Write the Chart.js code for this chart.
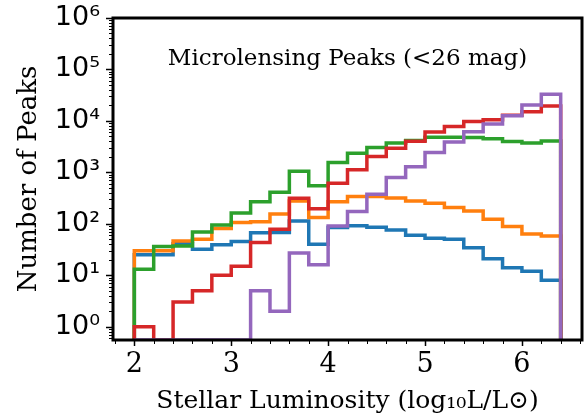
<!DOCTYPE html>
<html>
<head>
<meta charset="utf-8">
<script src="https://cdn.jsdelivr.net/npm/chart.js@4.4.0/dist/chart.umd.min.js"></script>
<style>
  html, body { margin: 0; padding: 0; background: #fff; }
</style>
</head>
<body>
<canvas id="peaks" width="587" height="419"></canvas>
<script>
// histogram bins, log10 L/Lsun, 0.2 dex wide
const binEdges = [2.0, 2.2, 2.4, 2.6, 2.8, 3.0, 3.2, 3.4, 3.6, 3.8, 4.0, 4.2,
                  4.4, 4.6, 4.8, 5.0, 5.2, 5.4, 5.6, 5.8, 6.0, 6.2, 6.4];

// counts per bin
const countsBlue   = [25, 25, 41, 32, 39, 45, 67, 68, 113, 40, 85, 91, 86, 76, 60, 52, 50, 34, 21, 14, 12, 8];
const countsOrange = [30, 30, 46, 50, 81, 106, 110, 155, 276, 133, 268, 337, 337, 317, 278, 250, 207, 178, 122, 88, 63, 58];
const countsGreen  = [13, 36, 37, 69, 95, 162, 268, 408, 1050, 548, 1550, 2340, 3030, 3700, 4170, 4800, 4800, 4750, 4470, 3980, 3700, 4050];
const countsRed    = [1, 0, 3, 5, 10, 15, 43, 78, 315, 195, 610, 1120, 2030, 2940, 4040, 6100, 7770, 9750, 10500, 12900, 15000, 19500];
const countsPurple = [0, 0, 0, 0, 0, 0, 5, 2, 27, 16, 90, 173, 376, 794, 1290, 2430, 3900, 6150, 8700, 12600, 20300, 33000];

const xTickValues = [2, 3, 4, 5, 6];
const yTickValues = [1, 10, 100, 1000, 10000, 100000, 1000000];
const yTickLabels = ['10⁰', '10¹', '10²', '10³', '10⁴', '10⁵', '10⁶'];

const panelTitle = 'Microlensing Peaks (<26 mag)';
const xTitle = 'Stellar Luminosity (log₁₀L/L⊙)';
const yTitle = 'Number of Peaks';

const xMin = 1.78, xMax = 6.62;
const yMin = 0.55, yMax = 1e6;

// outline like histtype='step'; empty bins sit on the axis floor (log scale has no 0)
function stepOutline(counts) {
    const lvl = c => (c > 0 ? c : yMin);
    const last = binEdges[binEdges.length - 1];
    const pts = [{ x: binEdges[0], y: yMin }];
    counts.forEach((c, i) => pts.push({ x: binEdges[i], y: lvl(c) }));
    pts.push({ x: last, y: lvl(counts[counts.length - 1]) });
    pts.push({ x: last, y: yMin });
    return pts;
}

function series(counts, color, order) {
    return {
        data: stepOutline(counts),
        borderColor: color,
        borderWidth: 3.5,
        stepped: true,
        pointRadius: 0,
        fill: false,
        order: order,
    };
}

// frame, tick marks and the in-panel title
const axesBox = {
    id: 'axesBox',
    afterDatasetsDraw(chart) {
        const { ctx, chartArea: a, scales: { x, y } } = chart;
        ctx.save();
        ctx.strokeStyle = '#000';

        // y ticks (log: majors at decades, minors at 2..9)
        for (let d = -1; d <= 6; d++) {
            for (let k = 1; k <= 9; k++) {
                const v = k * Math.pow(10, d);
                if (v < y.min || v > y.max) continue;
                const py = Math.round(y.getPixelForValue(v)) + 0.5;
                const len = k === 1 ? 7 : 4;
                ctx.lineWidth = k === 1 ? 1.5 : 1;
                ctx.beginPath();
                ctx.moveTo(a.left - len, py);
                ctx.lineTo(a.left, py);
                ctx.stroke();
            }
        }

        // x ticks, minors every 0.2
        for (let i = 9; i <= 33; i++) {
            const v = i / 5;
            if (v < x.min || v > x.max) continue;
            const px = Math.round(x.getPixelForValue(v)) + 0.5;
            const major = i % 5 === 0;
            const len = major ? 6 : 4;
            ctx.lineWidth = major ? 1.5 : 1;
            ctx.beginPath();
            ctx.moveTo(px, a.bottom);
            ctx.lineTo(px, a.bottom + len);
            ctx.stroke();
        }

        ctx.lineWidth = 3;
        ctx.strokeRect(a.left, a.top, a.right - a.left, a.bottom - a.top);

        ctx.fillStyle = '#000';
        ctx.font = '23px "DejaVu Serif"';
        ctx.textAlign = 'center';
        ctx.textBaseline = 'middle';
        ctx.fillText(panelTitle, (a.left + a.right) / 2, a.top + 0.128 * (a.bottom - a.top));
        ctx.restore();
    }
};

const ctx = document.getElementById('peaks');

new Chart(ctx, {
    type: 'line',
    data: {
        datasets: [
            series(countsBlue, '#1f77b4', 4),
            series(countsOrange, '#ff7f0e', 3),
            series(countsGreen, '#2ca02c', 2),
            series(countsRed, '#d62728', 1),
            series(countsPurple, '#9467bd', 0),
        ],
    },
    options: {
        responsive: false,
        animation: false,
        devicePixelRatio: 1,
        layout: {
            padding: { top: 18, right: 5, left: 0, bottom: 0 },
        },
        plugins: {
            legend: { display: false },
            tooltip: { enabled: false },
        },
        scales: {
            x: {
                type: 'linear',
                min: xMin,
                max: xMax,
                afterBuildTicks: (s) => { s.ticks = xTickValues.map(v => ({ value: v })); },
                afterFit: (s) => { s.height = 79; s.paddingLeft = 0; s.paddingRight = 0; },
                grid: { display: false, drawTicks: false },
                border: { display: false },
                ticks: {
                    color: '#000',
                    padding: 9,
                    autoSkip: false,
                    maxRotation: 0,
                    font: { family: 'DejaVu Serif', size: 27 },
                },
                title: {
                    display: true,
                    text: xTitle,
                    color: '#000',
                    font: { family: 'DejaVu Serif', size: 25 },
                    padding: { top: 0, bottom: 3 },
                },
            },
            y: {
                type: 'logarithmic',
                min: yMin,
                max: yMax,
                afterBuildTicks: (s) => { s.ticks = yTickValues.map(v => ({ value: v })); },
                afterFit: (s) => { s.width = 113; s.paddingTop = 0; s.paddingBottom = 0; },
                grid: { display: false, drawTicks: false },
                border: { display: false },
                ticks: {
                    color: '#000',
                    padding: 13,
                    autoSkip: false,
                    font: { family: 'DejaVu Sans', size: 27 },
                    callback: (v, i) => yTickLabels[i],
                },
                title: {
                    display: true,
                    text: yTitle,
                    color: '#000',
                    font: { family: 'DejaVu Serif', size: 26 },
                    padding: { top: 14, bottom: 0 },
                },
            },
        },
    },
    plugins: [axesBox],
});
</script>
</body>
</html>
